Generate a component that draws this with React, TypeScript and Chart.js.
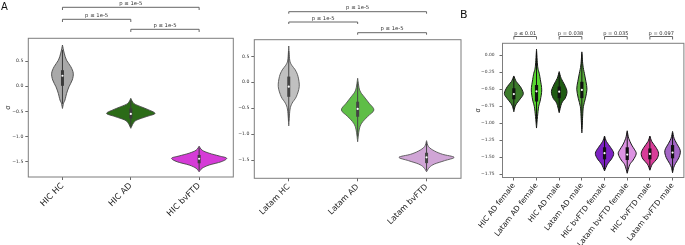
import React, { useEffect, useRef } from 'react';
import { Chart, registerables } from 'chart.js';

Chart.register(...registerables);

const FONT = '"DejaVu Sans", sans-serif';

// ---------- Panel A (left): HIC ----------
const A1_LABELS = ['HIC HC', 'HIC AD', 'HIC bvFTD'];
const A1_COLORS = ['#a9a9a9', '#2b6b17', '#d53bd7'];
const A1_MEDIAN = [0.21, -0.55, -1.44];
const A1_Q1 = [0.01, -0.64, -1.53];
const A1_Q3 = [0.32, -0.44, -1.365];
const A1_WHISK_LO = [-0.35, -0.8, -1.67];
const A1_WHISK_HI = [0.72, -0.27, -1.22];
const A1_KDE_Y = [
  [0.82, 0.66, 0.52, 0.39, 0.26, 0.125, -0.01, -0.14, -0.27, -0.34, -0.44],
  [-0.24, -0.34, -0.405, -0.47, -0.54, -0.6, -0.67, -0.735, -0.835],
  [-1.19, -1.27, -1.33, -1.385, -1.43, -1.5, -1.565, -1.63, -1.7],
];
const A1_KDE_W = [
  [0, 0.025, 0.059, 0.122, 0.158, 0.143, 0.095, 0.061, 0.037, 0.015, 0],
  [0, 0.044, 0.146, 0.264, 0.354, 0.234, 0.088, 0.037, 0],
  [0, 0.044, 0.146, 0.293, 0.403, 0.322, 0.146, 0.044, 0],
];
const A1_Y_TICKS = [0.5, 0, -0.5, -1, -1.5];
const A1_Y_TICK_LABELS = ['0.5', '0.0', '−0.5', '−1.0', '−1.5'];
const A1_P_PAIRS = [[0, 1], [1, 2], [0, 2]];
const A1_P_TEXT = ['p ≤ 1e-5', 'p ≤ 1e-5', 'p ≤ 1e-5'];

// ---------- Panel A (right): Latam ----------
const A2_LABELS = ['Latam HC', 'Latam AD', 'Latam bvFTD'];
const A2_COLORS = ['#c0c0c0', '#5fbe47', '#d0a5d6'];
const A2_MEDIAN = [-0.085, -0.515, -1.448];
const A2_Q1 = [-0.28, -0.665, -1.56];
const A2_Q3 = [0.11, -0.375, -1.36];
const A2_WHISK_LO = [-0.75, -1.05, -1.7];
const A2_WHISK_HI = [0.6, 0.0, -1.16];
const A2_KDE_Y = [
  [0.7, 0.43, 0.33, 0.24, 0.11, -0.085, -0.28, -0.405, -0.535, -0.84],
  [0.077, -0.15, -0.28, -0.405, -0.535, -0.66, -0.79, -0.92, -1.147],
  [-1.127, -1.243, -1.326, -1.39, -1.448, -1.513, -1.577, -1.64, -1.726],
];
const A2_KDE_W = [
  [0, 0.014, 0.043, 0.094, 0.135, 0.152, 0.109, 0.048, 0.017, 0],
  [0, 0.029, 0.094, 0.167, 0.236, 0.145, 0.058, 0.022, 0],
  [0, 0.029, 0.116, 0.232, 0.4, 0.261, 0.116, 0.043, 0],
];
const A2_Y_TICKS = [0.5, 0, -0.5, -1, -1.5];
const A2_Y_TICK_LABELS = ['0.5', '0.0', '−0.5', '−1.0', '−1.5'];
const A2_P_PAIRS = [[0, 2], [0, 1], [1, 2]];
const A2_P_TEXT = ['p ≤ 1e-5', 'p ≤ 1e-5', 'p ≤ 1e-5'];

// ---------- Panel B: by sex ----------
const B_LABELS = [
  'HIC AD female', 'Latam AD female', 'HIC AD male', 'Latam AD male',
  'HIC bvFTD female', 'Latam bvFTD female', 'HIC bvFTD male', 'Latam bvFTD male',
];
const B_COLORS = ['#3c7b2b', '#57d52f', '#1f5b13', '#58ad3a', '#7c22c2', '#dc92e2', '#d83d98', '#a466c6'];
const B_MEDIAN = [-0.57, -0.53, -0.535, -0.51, -1.44, -1.46, -1.45, -1.43];
const B_Q1 = [-0.647, -0.68, -0.63, -0.63, -1.53, -1.54, -1.53, -1.515];
const B_Q3 = [-0.485, -0.437, -0.46, -0.39, -1.353, -1.353, -1.37, -1.32];
const B_WHISK_LO = [-0.8, -1.0, -0.82, -1.08, -1.68, -1.72, -1.68, -1.71];
const B_WHISK_HI = [-0.32, 0.05, -0.26, 0.02, -1.2, -1.13, -1.2, -1.14];
const B_KDE_Y = [
  [-0.304, -0.388, -0.46, -0.56, -0.63, -0.705, -0.756, -0.83],
  [0.09, -0.17, -0.265, -0.36, -0.51, -0.657, -0.756, -0.9, -1.07],
  [-0.24, -0.34, -0.437, -0.535, -0.632, -0.705, -0.844],
  [0.05, -0.143, -0.265, -0.388, -0.5, -0.632, -0.756, -0.9, -1.14],
  [-1.187, -1.27, -1.353, -1.44, -1.525, -1.6, -1.7],
  [-1.11, -1.22, -1.32, -1.39, -1.45, -1.54, -1.61, -1.735],
  [-1.187, -1.27, -1.353, -1.44, -1.525, -1.6, -1.69],
  [-1.12, -1.22, -1.294, -1.4, -1.5, -1.59, -1.647, -1.727],
];
const B_KDE_W = [
  [0, 0.11, 0.286, 0.418, 0.308, 0.132, 0.053, 0],
  [0, 0.053, 0.12, 0.17, 0.23, 0.17, 0.095, 0.044, 0],
  [0, 0.088, 0.242, 0.344, 0.264, 0.11, 0],
  [0, 0.044, 0.11, 0.18, 0.225, 0.158, 0.066, 0.035, 0],
  [0, 0.088, 0.264, 0.405, 0.308, 0.132, 0],
  [0, 0.066, 0.198, 0.33, 0.396, 0.264, 0.11, 0],
  [0, 0.088, 0.264, 0.383, 0.308, 0.11, 0],
  [0, 0.066, 0.176, 0.339, 0.286, 0.132, 0.053, 0],
];
const B_Y_TICKS = [0, -0.25, -0.5, -0.75, -1, -1.25, -1.5, -1.75];
const B_Y_TICK_LABELS = ['0.00', '−0.25', '−0.50', '−0.75', '−1.00', '−1.25', '−1.50', '−1.75'];
const B_P_PAIRS = [[0, 1], [2, 3], [4, 5], [6, 7]];
const B_P_TEXT = ['p ≤ 0.01', 'p = 0.038', 'p = 0.035', 'p = 0.097'];

type Panel = any;

const PANELS: Panel[] = [
  {
    left: 0, width: 236,
    labels: A1_LABELS, colors: A1_COLORS, median: A1_MEDIAN, q1: A1_Q1, q3: A1_Q3,
    wLo: A1_WHISK_LO, wHi: A1_WHISK_HI, kdeY: A1_KDE_Y, kdeW: A1_KDE_W,
    yMin: -1.803, yMax: 0.954, yTicks: A1_Y_TICKS, yTickLabels: A1_Y_TICK_LABELS,
    pairs: A1_P_PAIRS, pTexts: A1_P_TEXT, bracketY: [19.3, 29.3, 7.3], leg: 2.7, textGap: 2.6, pFont: 5.3,
    yAxisWidth: 28.3, padRight: 2.7, padTop: 38.3, xAxisHeight: 68,
    yTitle: 'σ', titlePad: 4.1, yPad: 2, yFont: 4.6, xFont: 8.3, rot: 45, xPad: 1,
    outline: '#454545', outlineWidth: 0.9, boxColor: '#3a3a3a', boxW: 3,
    letter: 'A', letterX: 1, letterY: 10, letterSize: 10,
  },
  {
    left: 236, width: 229,
    labels: A2_LABELS, colors: A2_COLORS, median: A2_MEDIAN, q1: A2_Q1, q3: A2_Q3,
    wLo: A2_WHISK_LO, wHi: A2_WHISK_HI, kdeY: A2_KDE_Y, kdeW: A2_KDE_W,
    yMin: -1.853, yMax: 0.822, yTicks: A2_Y_TICKS, yTickLabels: A2_Y_TICK_LABELS,
    pairs: A2_P_PAIRS, pTexts: A2_P_TEXT, bracketY: [11.7, 22, 32.7], leg: 2, textGap: 2.4, pFont: 5.3,
    yAxisWidth: 18.3, padRight: 4, padTop: 39.7, xAxisHeight: 66.7,
    yTitle: '', titlePad: 0, yPad: 2, yFont: 4.6, xFont: 8.0, rot: 45, xPad: 1,
    outline: '#555555', outlineWidth: 0.9, boxColor: '#444444', boxW: 3,
    letter: '', letterX: 0, letterY: 0, letterSize: 10,
  },
  {
    left: 455, width: 230,
    labels: B_LABELS, colors: B_COLORS, median: B_MEDIAN, q1: B_Q1, q3: B_Q3,
    wLo: B_WHISK_LO, wHi: B_WHISK_HI, kdeY: B_KDE_Y, kdeW: B_KDE_W,
    yMin: -1.797, yMax: 0.176, yTicks: B_Y_TICKS, yTickLabels: B_Y_TICK_LABELS,
    pairs: B_P_PAIRS, pTexts: B_P_TEXT, bracketY: [36.5, 36.5, 36.5, 36.5], leg: 3, textGap: 1.8, pFont: 5.1,
    yAxisWidth: 47.5, padRight: 1, padTop: 43.3, xAxisHeight: 67.5,
    yTitle: 'σ', titlePad: 19.1, yPad: 5, yFont: 4.4, xFont: 7.5, rot: 52, xPad: 1,
    outline: '#1a1a1a', outlineWidth: 1, boxColor: '#111111', boxW: 3.2,
    letter: 'B', letterX: 5, letterY: 18.3, letterSize: 11,
  },
];

function curveThrough(ctx: CanvasRenderingContext2D, pts: { x: number; y: number }[]) {
  for (let i = 0; i < pts.length - 1; i++) {
    const p0 = pts[Math.max(0, i - 1)];
    const p1 = pts[i];
    const p2 = pts[i + 1];
    const p3 = pts[Math.min(pts.length - 1, i + 2)];
    ctx.bezierCurveTo(
      p1.x + (p2.x - p0.x) / 6, p1.y + (p2.y - p0.y) / 6,
      p2.x - (p3.x - p1.x) / 6, p2.y - (p3.y - p1.y) / 6,
      p2.x, p2.y,
    );
  }
}

function makeViolinPlugin(p: Panel) {
  return {
    id: 'violins',
    beforeDatasetsDraw(chart: any) {
      const { ctx, chartArea: a } = chart;
      const x = chart.scales.x;
      const y = chart.scales.y;
      const step = x.getPixelForValue(1) - x.getPixelForValue(0);
      ctx.save();
      ctx.strokeStyle = '#7d7d7d';
      ctx.lineWidth = 1;
      ctx.strokeRect(a.left, a.top, a.right - a.left, a.bottom - a.top);
      p.kdeY.forEach((ys: number[], i: number) => {
        const cx = x.getPixelForValue(i);
        const right = ys.map((v, k) => ({ x: cx + p.kdeW[i][k] * step, y: y.getPixelForValue(v) }));
        const left = ys.map((v, k) => ({ x: cx - p.kdeW[i][k] * step, y: y.getPixelForValue(v) })).reverse();
        ctx.beginPath();
        ctx.moveTo(right[0].x, right[0].y);
        curveThrough(ctx, right);
        curveThrough(ctx, left);
        ctx.closePath();
        ctx.fillStyle = p.colors[i];
        ctx.fill();
        ctx.lineWidth = p.outlineWidth;
        ctx.strokeStyle = p.outline;
        ctx.lineJoin = 'round';
        ctx.stroke();
        // whisker
        ctx.beginPath();
        ctx.moveTo(cx, y.getPixelForValue(p.wHi[i]));
        ctx.lineTo(cx, y.getPixelForValue(p.wLo[i]));
        ctx.lineWidth = 1;
        ctx.strokeStyle = p.boxColor;
        ctx.stroke();
        // box
        const t = y.getPixelForValue(p.q3[i]);
        const b = y.getPixelForValue(p.q1[i]);
        ctx.fillStyle = p.boxColor;
        ctx.fillRect(cx - p.boxW / 2, t, p.boxW, b - t);
      });
      ctx.restore();
    },
    afterDraw(chart: any) {
      const { ctx } = chart;
      const x = chart.scales.x;
      ctx.save();
      ctx.strokeStyle = '#555555';
      ctx.lineWidth = 0.9;
      ctx.fillStyle = '#333333';
      ctx.font = `${p.pFont}px ${FONT}`;
      ctx.textAlign = 'center';
      ctx.textBaseline = 'alphabetic';
      p.pairs.forEach((pr: number[], k: number) => {
        const x1 = x.getPixelForValue(pr[0]);
        const x2 = x.getPixelForValue(pr[1]);
        const ly = p.bracketY[k];
        ctx.beginPath();
        ctx.moveTo(x1, ly + p.leg);
        ctx.lineTo(x1, ly);
        ctx.lineTo(x2, ly);
        ctx.lineTo(x2, ly + p.leg);
        ctx.stroke();
        ctx.fillText(p.pTexts[k], (x1 + x2) / 2, ly - p.textGap);
      });
      if (p.letter) {
        ctx.fillStyle = '#111111';
        ctx.textAlign = 'left';
        ctx.font = `${p.letterSize}px ${FONT}`;
        ctx.fillText(p.letter, p.letterX, p.letterY);
      }
      ctx.restore();
    },
  };
}

function buildConfig(p: Panel): any {
  const gridOpts = {
    display: true,
    drawOnChartArea: false,
    drawTicks: true,
    tickLength: 3,
    color: '#444444',
    lineWidth: 0.8,
  };
  return {
    type: 'line',
    data: {
      labels: p.labels,
      datasets: [
        {
          data: p.median,
          showLine: false,
          pointRadius: 1.1,
          pointHoverRadius: 1.1,
          pointBackgroundColor: '#ffffff',
          pointBorderWidth: 0,
        },
      ],
    },
    options: {
      animation: false,
      responsive: false,
      devicePixelRatio: 1,
      events: [],
      layout: { padding: { top: p.padTop, right: p.padRight, left: 0, bottom: 0 } },
      plugins: { legend: { display: false }, tooltip: { enabled: false } },
      scales: {
        x: {
          type: 'category',
          offset: true,
          border: { display: false },
          grid: gridOpts,
          ticks: {
            autoSkip: false,
            minRotation: p.rot,
            maxRotation: p.rot,
            padding: p.xPad,
            color: '#222222',
            font: { family: FONT, size: p.xFont },
          },
          afterFit: (s: any) => {
            s.height = p.xAxisHeight;
          },
        },
        y: {
          type: 'linear',
          min: p.yMin,
          max: p.yMax,
          border: { display: false },
          grid: gridOpts,
          ticks: {
            padding: p.yPad,
            color: '#333333',
            font: { family: FONT, size: p.yFont },
            callback: (_v: any, i: number) => p.yTickLabels[i],
          },
          afterBuildTicks: (s: any) => {
            s.ticks = p.yTicks.map((v: number) => ({ value: v }));
          },
          afterFit: (s: any) => {
            s.width = p.yAxisWidth;
          },
          title: {
            display: !!p.yTitle,
            text: p.yTitle,
            color: '#222222',
            font: { family: FONT, size: 6.5 },
            padding: { top: p.titlePad, bottom: 0 },
          },
        },
      },
    },
    plugins: [makeViolinPlugin(p)],
  };
}

function ViolinPanel({ p }: { p: Panel }) {
  const ref = useRef<HTMLCanvasElement>(null);
  useEffect(() => {
    const chart = new Chart(ref.current as HTMLCanvasElement, buildConfig(p));
    return () => chart.destroy();
  }, [p]);
  return (
    <canvas
      ref={ref}
      width={p.width}
      height={245}
      style={{ position: 'absolute', left: p.left, top: 0, width: p.width, height: 245 }}
    />
  );
}

export default function App() {
  return (
    <div style={{ position: 'absolute', left: 0, top: 0, width: 685, height: 245, background: '#ffffff', overflow: 'hidden' }}>
      {PANELS.map((p, i) => (
        <ViolinPanel key={i} p={p} />
      ))}
    </div>
  );
}
